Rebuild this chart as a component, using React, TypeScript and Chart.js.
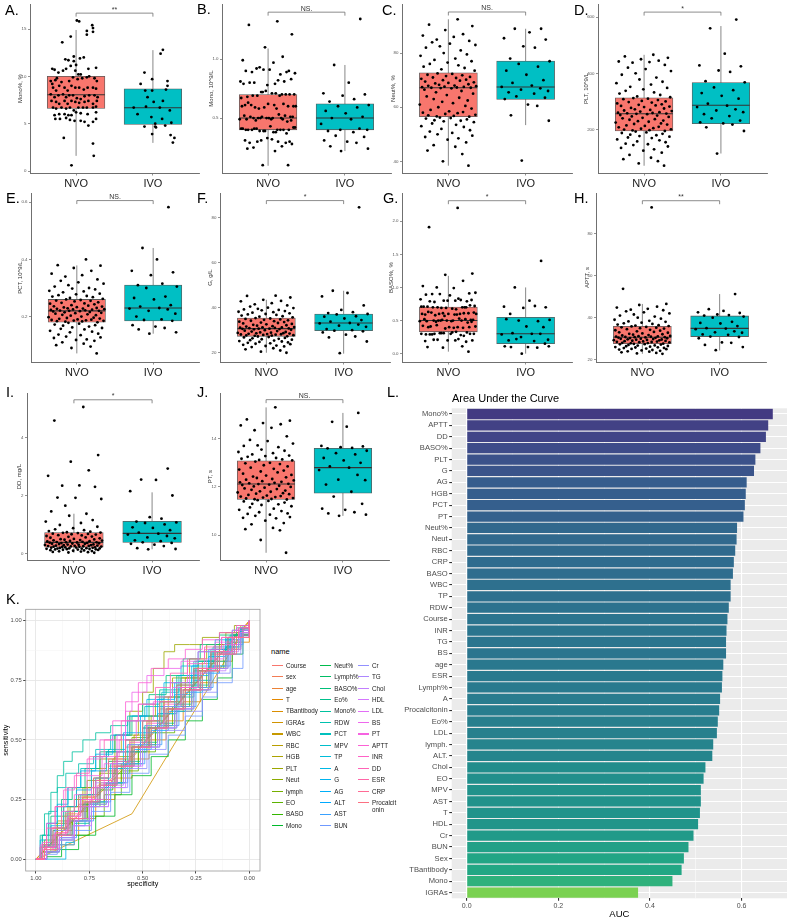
import React, { useEffect, useRef } from 'react';
import { Chart, registerables } from 'chart.js';

Chart.register(...registerables);
const FONT = '"Liberation Sans", Arial, Helvetica, sans-serif';
Chart.defaults.font.family = FONT;

// ================= Box plot panels (A-J) =================
const GROUPS = ['NVO', 'IVO'];
const PANEL_LETTERS = ['A.', 'B.', 'C.', 'D.', 'E.', 'F.', 'G.', 'H.', 'I.', 'J.'];
const Y_TITLES = ['Mono%, %', 'Mono, 10^9/L', 'Neut%, %', 'PLT, 10^9/L', 'PCT, 10^9/L', 'G, g/L', 'BASO%, %', 'APTT, s', 'DD, mg/L', 'PT, s'];
const Y_MIN = [-0.21, 0.034, 35.7, 45.8, 0.041, 15.9, -0.126, 18.9, -0.23, 8.97];
const Y_MAX = [17.63, 1.466, 98.1, 645.9, 0.632, 90.8, 2.424, 99.2, 5.54, 15.89];
const Y_TICKS = [[0, 5, 10, 15], [0.5, 1.0], [40, 60, 80], [200, 400, 600], [0.2, 0.4, 0.6], [20, 40, 60, 80], [0, 0.5, 1, 1.5, 2], [20, 40, 60, 80], [0, 2, 4], [10, 12, 14]];
const Y_TICK_LABELS = [['0', '5', '10', '15'], ['0.5', '1.0'], ['40', '60', '80'], ['200', '400', '600'], ['0.2', '0.4', '0.6'], ['20', '40', '60', '80'], ['0.0', '0.5', '1.0', '1.5', '2.0'], ['20', '40', '60', '80'], ['0', '2', '4'], ['10', '12', '14']];
const SIG_LABELS = ['**', 'NS.', 'NS.', '*', 'NS.', '*', '*', '**', '*', 'NS.'];
const SIG_Y = [16.68, 1.398, 95.2, 617.6, 0.606, 87.5, 2.31, 95.6, 5.31, 15.62];

// box statistics per panel: [NVO, IVO]
const BOX_LOW = [[1.6, 2.97], [0.095, 0.22], [38.4, 53.4], [71.6, 115], [0.071, 0.14], [20, 19.6], [0.03, 0], [22.8, 24.4], [0.02, 0.14], [9.27, 10.8]];
const BOX_Q1 = [[6.6, 4.93], [0.4, 0.4], [56.5, 62.9], [195, 221], [0.18, 0.185], [27.3, 29.8], [0.33, 0.15], [27.6, 31], [0.21, 0.38], [11.48, 11.74]];
const BOX_MED = [[8.05, 6.68], [0.5, 0.5], [67.2, 67.5], [256.5, 286.8], [0.22, 0.23], [30.7, 33.2], [0.5, 0.3], [30.7, 34.9], [0.38, 0.69], [12.12, 12.8]];
const BOX_Q3 = [[10.0, 8.68], [0.7, 0.62], [72.7, 77.1], [312.9, 367], [0.26, 0.31], [35.4, 37.2], [0.705, 0.55], [35.9, 40.8], [0.72, 1.11], [13.08, 13.6]];
const BOX_HIGH = [[14.9, 12.77], [1.09, 0.95], [92.5, 89], [465.8, 568], [0.379, 0.44], [43.5, 47.5], [1.175, 1.0], [46.5, 51.2], [1.37, 2.11], [15.3, 15.07]];

// jitter offsets (category units)
const JIT_NVO_A = [
  0.01, 0.04, 0.21, 0.22, 0.22, 0.14, 0.14, -0.07, -0.18, 0.10,
  -0.03, -0.03, -0.10, -0.14, 0.0, 0.05, -0.07, -0.23, -0.17, -0.01,
  -0.13, 0.06, 0.03, 0.16, 0.26, -0.31, -0.28, -0.31, -0.25, -0.30,
  -0.26, -0.19, -0.09, -0.04, 0.02, 0.08, 0.14, 0.17, 0.24, 0.27,
  -0.33, -0.27, -0.22, -0.15, -0.11, -0.06, -0.01, 0.04, 0.10, 0.15,
  0.22, 0.26, -0.33, -0.28, -0.23, -0.17, -0.13, -0.09, -0.04, 0.01,
  0.06, 0.11, 0.17, 0.24, 0.28, -0.32, -0.26, -0.22, -0.15, -0.11,
  -0.06, -0.01, 0.04, 0.11, 0.16, 0.22, 0.27, -0.30, -0.26, -0.19,
  -0.13, -0.08, -0.03, 0.03, 0.09, 0.14, 0.22, 0.26, -0.28, -0.22,
  -0.15, -0.10, -0.06, 0.0, 0.06, 0.15, 0.26, -0.27, -0.21, -0.13,
  -0.08, -0.02, 0.06, 0.11, 0.16, 0.22, 0.26, -0.16, 0.22, 0.23,
  -0.06];
const JIT_IVO_A = [0.13, 0.10, -0.11, -0.01, 0.19, -0.16, 0.19, -0.10, -0.01, 0.17, -0.07, 0.13, 0.01, -0.09, -0.25, 0.09, 0.22, -0.20, -0.02, 0.12, 0.24, 0.03, -0.11, 0.03, 0.04, 0.16, -0.01, 0.23, 0.28, 0.26];
const JIT_NVO = [
  0.12, -0.25, 0.31, -0.04, 0.19, -0.33, 0.07, -0.15, 0.27, -0.21,
  0.02, 0.35, -0.11, -0.29, 0.16, -0.06, 0.24, -0.36, 0.09, -0.18,
  0.3, -0.01, -0.24, 0.13, -0.32, 0.21, -0.09, 0.34, -0.14, 0.05,
  -0.27, 0.18, -0.03, 0.28, -0.2, 0.1, -0.35, 0.23, -0.07, 0.15,
  -0.3, 0.33, 0.0, -0.17, 0.26, -0.12, 0.08, -0.26, 0.36, -0.05,
  0.2, -0.34, 0.11, -0.22, 0.29, -0.1, 0.04, -0.31, 0.17, -0.16,
  0.32, -0.02, -0.28, 0.14, -0.19, 0.25, -0.08, 0.06, -0.37, 0.22,
  -0.13, 0.3, -0.23, 0.01, 0.19, -0.33, 0.12, -0.04, 0.35, -0.26,
  0.07, -0.15, 0.27, -0.11, 0.03, -0.29, 0.24, -0.18, 0.16, -0.06,
  0.33, -0.21, 0.1, -0.35, 0.2, -0.09, 0.28, -0.24, 0.05, -0.14,
  0.31, -0.3, 0.13, -0.01, 0.23, -0.19, 0.09, -0.27, 0.18, -0.07,
  0.26];
const JIT_IVO = [0.2, -0.14, 0.05, -0.28, 0.26, -0.03, 0.12, -0.2, 0.31, -0.09, 0.16, -0.25, 0.01, 0.23, -0.17, 0.08, -0.31, 0.19, -0.06, 0.29, -0.22, 0.11, -0.12, 0.25, -0.27, 0.03, 0.15, -0.19, 0.3, -0.05];

// point values
const NVO_A = [15.9, 15.8, 15.4, 15.1, 14.7, 14.8, 14.4, 14.2, 13.6, 12.0, 12.1, 11.6, 11.7, 11.8, 11.2, 11.9, 11.1, 10.4, 10.6, 10.6, 10.8, 10.2, 10.2, 10.8, 10.9, 10.8, 10.7, 9.2, 9.8, 8.8, 8.5, 9.4, 9.5, 9.9, 9.7, 9.8, 9.9, 10.0, 9.8, 9.5, 9.5, 9.6, 9.0, 8.8, 8.5, 9.0, 8.8, 8.8, 8.6, 8.8, 8.8, 8.7, 8.1, 7.8, 8.0, 8.1, 7.8, 8.0, 8.0, 7.7, 7.6, 7.9, 8.0, 8.0, 7.8, 7.4, 7.3, 7.1, 7.4, 7.1, 7.4, 7.3, 7.2, 7.3, 7.4, 7.1, 7.4, 6.7, 6.6, 6.7, 6.6, 6.7, 6.4, 6.7, 6.7, 6.7, 6.7, 6.8, 5.9, 6.0, 6.0, 5.9, 5.9, 6.2, 6.1, 6.0, 6.2, 5.5, 5.5, 5.6, 5.4, 5.3, 5.3, 5.2, 4.8, 5.2, 5.5, 3.5, 2.9, 1.6, 0.6];
const IVO_A = [12.8, 12.4, 10.4, 9.7, 9.5, 9.2, 9.0, 8.5, 8.5, 8.6, 7.8, 7.4, 7.3, 6.8, 6.7, 6.7, 6.4, 6.0, 5.7, 5.5, 5.1, 5.0, 4.7, 4.7, 4.6, 4.8, 3.9, 3.8, 3.5, 3.0];
const NVO_B = [1.32, 1.29, 1.21, 1.1, 1.02, 0.99, 0.97, 0.92, 0.9, 0.89, 0.91, 0.88, 0.93, 0.9, 0.87, 0.91, 0.89, 0.81, 0.79, 0.8, 0.83, 0.78, 0.8, 0.82, 0.79, 0.81, 0.72, 0.7, 0.69, 0.71, 0.68, 0.7, 0.73, 0.7, 0.69, 0.71, 0.67, 0.7, 0.72, 0.69, 0.61, 0.6, 0.62, 0.59, 0.6, 0.58, 0.61, 0.63, 0.6, 0.59, 0.62, 0.6, 0.58, 0.61, 0.51, 0.5, 0.49, 0.52, 0.5, 0.48, 0.51, 0.5, 0.49, 0.53, 0.5, 0.47, 0.51, 0.5, 0.49, 0.52, 0.5, 0.48, 0.51, 0.5, 0.49, 0.41, 0.4, 0.39, 0.42, 0.4, 0.38, 0.41, 0.4, 0.39, 0.43, 0.4, 0.37, 0.41, 0.4, 0.39, 0.42, 0.4, 0.38, 0.41, 0.4, 0.31, 0.3, 0.29, 0.32, 0.3, 0.28, 0.31, 0.3, 0.33, 0.29, 0.25, 0.22, 0.24, 0.26, 0.1, 0.1];
const IVO_B = [1.34, 0.95, 0.8, 0.71, 0.7, 0.69, 0.66, 0.64, 0.61, 0.6, 0.59, 0.56, 0.54, 0.51, 0.5, 0.49, 0.45, 0.41, 0.4, 0.4, 0.39, 0.38, 0.35, 0.34, 0.31, 0.3, 0.29, 0.26, 0.24, 0.22];
const NVO_C = [92.5, 90.5, 90, 88.5, 87, 86.5, 86, 85, 84.5, 84, 83.5, 83, 82.5, 82, 81, 80, 79.5, 79, 78, 77.5, 77, 76.5, 76, 75.5, 75, 74.5, 74, 73.5, 72.5, 72.3, 72, 71.8, 71.5, 71.2, 71, 70.8, 70.5, 70.2, 70, 69.8, 69.5, 69.2, 69, 68.8, 68.5, 68.3, 68, 67.9, 67.8, 67.6, 67.5, 67.4, 67.3, 67.2, 67.2, 67.1, 67, 66.5, 66, 65.5, 65, 64.5, 64, 63.5, 63, 62.5, 62, 61.5, 61, 60.5, 60, 59.5, 59, 58.5, 58.2, 58, 57.8, 57.5, 57.2, 57, 56.8, 56.6, 56.5, 56.2, 56, 55.8, 55.5, 55.2, 55, 54.8, 54.5, 54, 53.5, 53, 52.7, 52, 51.5, 51, 50.5, 50, 49.5, 49, 48.5, 48, 47, 46, 45.4, 44, 42.7, 40, 38.4];
const IVO_C = [89, 89, 87.7, 85.5, 85, 82.5, 82, 78, 77, 76, 75, 73.5, 72, 70, 69, 68, 67.5, 67, 66.5, 66, 65.5, 65, 64, 63.5, 63, 61, 60.5, 57, 55, 40.3];
const NVO_D = [466, 460, 455, 450, 445, 442, 440, 438, 430, 420, 415, 408, 400, 395, 385, 378, 370, 365, 360, 352, 348, 343, 338, 332, 328, 323, 318, 315, 312, 310, 308, 305, 302, 300, 298, 296, 293, 290, 288, 286, 284, 282, 280, 277, 275, 272, 270, 268, 266, 264, 262, 260, 259, 258, 257, 256, 255, 252, 250, 247, 245, 242, 240, 237, 235, 232, 230, 228, 225, 222, 220, 218, 215, 213, 210, 208, 205, 203, 201, 200, 198, 197, 195, 193, 190, 188, 185, 182, 180, 177, 175, 172, 170, 165, 162, 158, 155, 150, 148, 145, 140, 135, 130, 125, 118, 110, 100, 95, 88, 80, 72];
const IVO_D = [591, 560, 470, 428, 425, 410, 405, 372, 368, 350, 340, 330, 320, 310, 292, 285, 280, 272, 268, 262, 255, 248, 240, 232, 226, 222, 218, 208, 195, 115];
const NVO_E = [0.40, 0.38, 0.378, 0.37, 0.36, 0.35, 0.345, 0.34, 0.33, 0.325, 0.32, 0.315, 0.31, 0.305, 0.30, 0.298, 0.295, 0.29, 0.288, 0.285, 0.28, 0.278, 0.275, 0.272, 0.27, 0.268, 0.265, 0.262, 0.26, 0.258, 0.256, 0.255, 0.253, 0.25, 0.248, 0.246, 0.245, 0.243, 0.24, 0.238, 0.236, 0.235, 0.233, 0.232, 0.23, 0.229, 0.228, 0.227, 0.226, 0.225, 0.224, 0.223, 0.222, 0.221, 0.22, 0.22, 0.219, 0.218, 0.216, 0.215, 0.213, 0.212, 0.21, 0.208, 0.206, 0.205, 0.203, 0.2, 0.198, 0.196, 0.195, 0.193, 0.192, 0.19, 0.189, 0.188, 0.187, 0.186, 0.185, 0.184, 0.183, 0.182, 0.18, 0.178, 0.175, 0.172, 0.17, 0.168, 0.165, 0.162, 0.16, 0.157, 0.155, 0.15, 0.147, 0.145, 0.14, 0.137, 0.135, 0.13, 0.127, 0.125, 0.12, 0.118, 0.115, 0.11, 0.105, 0.1, 0.095, 0.09, 0.071];
const IVO_E = [0.583, 0.44, 0.40, 0.36, 0.355, 0.345, 0.315, 0.31, 0.305, 0.30, 0.27, 0.265, 0.26, 0.24, 0.235, 0.23, 0.228, 0.225, 0.22, 0.21, 0.2, 0.19, 0.188, 0.185, 0.17, 0.165, 0.16, 0.155, 0.145, 0.14];
const NVO_F = [45.3, 45.2, 44.5, 43.5, 43, 42.8, 42, 41.5, 41, 40.5, 40, 39.8, 39.5, 39.2, 39, 38.8, 38.5, 38.2, 38, 37.8, 37.5, 37.2, 37, 36.8, 36.5, 36.2, 36, 35.7, 35.4, 35.2, 35, 34.8, 34.6, 34.4, 34.2, 34, 33.8, 33.6, 33.4, 33.2, 33, 32.8, 32.6, 32.4, 32.2, 32, 31.8, 31.6, 31.4, 31.3, 31.2, 31.1, 31, 30.9, 30.8, 30.7, 30.7, 30.6, 30.5, 30.4, 30.2, 30, 29.8, 29.6, 29.4, 29.2, 29, 28.9, 28.8, 28.7, 28.6, 28.5, 28.4, 28.3, 28.2, 28.1, 28, 27.9, 27.8, 27.7, 27.6, 27.5, 27.3, 27.2, 27, 26.8, 26.6, 26.4, 26.2, 26, 25.8, 25.6, 25.4, 25.2, 25, 24.8, 24.6, 24.4, 24.2, 24, 23.8, 23.5, 23.2, 23, 22.8, 22.5, 22, 21.5, 21, 20.5, 20];
const IVO_F = [84.5, 47.5, 46.5, 45, 41, 39, 38, 37.6, 37.2, 37, 36.2, 36, 35.2, 34.5, 33.8, 33.2, 33, 32.5, 32, 31.5, 30.5, 30, 29.8, 29.5, 29, 28, 27.2, 26.8, 25, 19.8];
const NVO_G = [2.2, 1.91, 1.21, 1.19, 1.1, 1.02, 0.99, 1.0, 0.91, 0.9, 0.88, 0.92, 0.9, 0.89, 0.81, 0.8, 0.79, 0.82, 0.8, 0.78, 0.81, 0.8, 0.79, 0.83, 0.71, 0.7, 0.69, 0.72, 0.7, 0.68, 0.71, 0.7, 0.69, 0.73, 0.7, 0.67, 0.71, 0.7, 0.61, 0.6, 0.59, 0.62, 0.6, 0.58, 0.61, 0.6, 0.59, 0.63, 0.6, 0.57, 0.61, 0.6, 0.59, 0.62, 0.51, 0.5, 0.49, 0.52, 0.5, 0.48, 0.51, 0.5, 0.49, 0.53, 0.5, 0.47, 0.51, 0.5, 0.49, 0.52, 0.5, 0.48, 0.41, 0.4, 0.39, 0.42, 0.4, 0.38, 0.41, 0.4, 0.39, 0.43, 0.4, 0.31, 0.3, 0.29, 0.32, 0.3, 0.28, 0.31, 0.3, 0.29, 0.33, 0.3, 0.27, 0.31, 0.3, 0.29, 0.32, 0.21, 0.2, 0.19, 0.22, 0.2, 0.18, 0.21, 0.2, 0.1, 0.11, 0.09, 0.03];
const IVO_G = [1.4, 1.0, 0.8, 0.71, 0.7, 0.69, 0.72, 0.6, 0.51, 0.5, 0.49, 0.52, 0.41, 0.4, 0.31, 0.3, 0.29, 0.3, 0.25, 0.21, 0.2, 0.19, 0.22, 0.15, 0.11, 0.1, 0.09, 0.1, 0.11, 0.0];
const NVO_H = [92.4, 53.7, 46.5, 46, 45.2, 44.8, 44.2, 43.8, 43.5, 43, 42.5, 42, 41.5, 41, 40.5, 40, 39.5, 39, 38.5, 38.2, 38, 37.6, 37.3, 37, 36.7, 36.4, 36.2, 36, 35.8, 35.6, 35.4, 35.2, 35, 34.8, 34.5, 34.2, 34, 33.8, 33.5, 33.2, 33, 32.8, 32.5, 32.3, 32.1, 31.9, 31.7, 31.5, 31.3, 31.2, 31.1, 31, 30.9, 30.8, 30.7, 30.7, 30.6, 30.5, 30.4, 30.3, 30.2, 30, 29.9, 29.8, 29.7, 29.6, 29.5, 29.4, 29.3, 29.2, 29, 28.9, 28.8, 28.7, 28.6, 28.5, 28.4, 28.3, 28.2, 28, 27.9, 27.8, 27.6, 27.5, 27.4, 27.3, 27.2, 27, 26.8, 26.7, 26.5, 26.4, 26.2, 26, 25.9, 25.8, 25.6, 25.5, 25.3, 25.1, 25, 24.8, 24.6, 24.4, 24.2, 24, 23.8, 23.5, 23.2, 23, 22.8];
const IVO_H = [51.2, 44, 43.2, 42.5, 42.2, 41.5, 41.2, 41, 40.5, 40, 38, 37.5, 37.2, 36, 35, 34.8, 34.5, 33.5, 33, 32.8, 32, 31.8, 31, 30.8, 30.2, 28.2, 28, 27, 26, 24.5];
const NVO_I = [5.06, 4.59, 3.4, 3.17, 2.87, 2.68, 2.35, 2.34, 2.3, 1.93, 1.92, 1.88, 1.65, 1.45, 1.37, 1.3, 1.15, 1.1, 1.05, 0.98, 0.92, 0.87, 0.83, 0.8, 0.77, 0.75, 0.73, 0.72, 0.71, 0.7, 0.68, 0.67, 0.66, 0.65, 0.63, 0.62, 0.6, 0.58, 0.57, 0.55, 0.54, 0.52, 0.5, 0.49, 0.48, 0.47, 0.46, 0.45, 0.44, 0.43, 0.42, 0.41, 0.4, 0.39, 0.38, 0.38, 0.375, 0.37, 0.36, 0.355, 0.35, 0.34, 0.335, 0.33, 0.32, 0.31, 0.305, 0.3, 0.29, 0.285, 0.28, 0.27, 0.265, 0.26, 0.255, 0.25, 0.245, 0.24, 0.235, 0.23, 0.225, 0.22, 0.21, 0.205, 0.2, 0.195, 0.19, 0.185, 0.18, 0.175, 0.17, 0.165, 0.16, 0.155, 0.15, 0.145, 0.14, 0.135, 0.13, 0.125, 0.12, 0.11, 0.1, 0.09, 0.08, 0.07, 0.06, 0.05, 0.04, 0.03, 0.02];
const IVO_I = [2.93, 2.55, 2.54, 2.15, 2.0, 1.25, 1.2, 1.1, 1.07, 1.05, 1.0, 0.9, 0.88, 0.8, 0.72, 0.68, 0.65, 0.6, 0.55, 0.52, 0.45, 0.42, 0.38, 0.36, 0.33, 0.3, 0.25, 0.18, 0.15, 0.14];
const NVO_J = [15.3, 14.8, 14.75, 14.65, 14.6, 14.55, 14.45, 14.35, 14.1, 13.95, 13.9, 13.8, 13.72, 13.7, 13.65, 13.55, 13.5, 13.45, 13.4, 13.35, 13.3, 13.28, 13.25, 13.2, 13.17, 13.14, 13.12, 13.1, 13.05, 13.0, 12.98, 12.95, 12.9, 12.85, 12.8, 12.75, 12.72, 12.68, 12.64, 12.6, 12.55, 12.5, 12.47, 12.43, 12.4, 12.37, 12.33, 12.3, 12.27, 12.24, 12.21, 12.19, 12.17, 12.15, 12.13, 12.12, 12.1, 12.08, 12.05, 12.02, 12.0, 11.97, 11.94, 11.91, 11.88, 11.85, 11.82, 11.8, 11.77, 11.74, 11.72, 11.7, 11.67, 11.64, 11.62, 11.6, 11.58, 11.56, 11.54, 11.52, 11.5, 11.49, 11.48, 11.45, 11.42, 11.4, 11.35, 11.3, 11.28, 11.25, 11.2, 11.15, 11.1, 11.05, 11.0, 10.95, 10.9, 10.88, 10.85, 10.8, 10.75, 10.72, 10.7, 10.6, 10.5, 10.45, 10.3, 10.25, 10.2, 9.8, 9.27];
const IVO_J = [15.07, 14.7, 14.5, 13.7, 13.68, 13.65, 13.62, 13.6, 13.5, 13.4, 13.35, 13.2, 13.1, 13.0, 12.85, 12.8, 12.7, 12.5, 12.3, 12.28, 12.1, 11.8, 11.6, 11.3, 11.1, 11.05, 10.95, 10.9, 10.85, 10.8];

const NVO_VALUES = [NVO_A, NVO_B, NVO_C, NVO_D, NVO_E, NVO_F, NVO_G, NVO_H, NVO_I, NVO_J];
const IVO_VALUES = [IVO_A, IVO_B, IVO_C, IVO_D, IVO_E, IVO_F, IVO_G, IVO_H, IVO_I, IVO_J];
const NVO_JITTERS = [JIT_NVO_A, JIT_NVO, JIT_NVO, JIT_NVO, JIT_NVO, JIT_NVO, JIT_NVO, JIT_NVO, JIT_NVO, JIT_NVO];
const IVO_JITTERS = [JIT_IVO_A, JIT_IVO, JIT_IVO, JIT_IVO, JIT_IVO, JIT_IVO, JIT_IVO, JIT_IVO, JIT_IVO, JIT_IVO];

// ================= AUC bar chart (L) =================
const AUC_NAMES = ['Mono%', 'APTT', 'DD', 'BASO%', 'PLT', 'G', 'AG', 'HGB', 'PCT', 'PT', 'Neut%', 'Neut', 'RBC', 'CRP', 'BASO', 'WBC', 'TP', 'RDW', 'Course', 'INR', 'TG', 'BS', 'age', 'ESR', 'Lymph%', 'A', 'Procalcitonin', 'Eo%', 'LDL', 'lymph.', 'ALT.', 'Chol', 'EO', 'MPV', 'AST', 'T', 'HDL', 'Cr', 'BUN', 'Sex', 'TBantibody', 'Mono', 'IGRAs'];
const AUC_VALUES = [0.668, 0.658, 0.653, 0.641, 0.630, 0.627, 0.611, 0.609, 0.607, 0.604, 0.590, 0.589, 0.586, 0.583, 0.581, 0.576, 0.576, 0.572, 0.569, 0.567, 0.566, 0.566, 0.560, 0.558, 0.557, 0.553, 0.551, 0.548, 0.546, 0.538, 0.536, 0.521, 0.517, 0.511, 0.511, 0.509, 0.505, 0.495, 0.484, 0.474, 0.469, 0.449, 0.374];
const AUC_TICKS = [0, 0.1, 0.2, 0.3, 0.4, 0.5, 0.6];
const AUC_TICK_LABELS = ['0.0', '', '0.2', '', '0.4', '', '0.6'];

// ================= ROC curves (K) : [specificity, sensitivity, ...] =================
const ROC_NAMES = ['Course', 'sex', 'age', 'T', 'TBantibody', 'IGRAs', 'WBC', 'RBC', 'HGB', 'PLT', 'Neut', 'lymph', 'EO', 'BASO', 'Mono', 'Neut%', 'Lymph%', 'BASO%', 'Eo%', 'Mono%', 'RDW', 'PCT', 'MPV', 'TP', 'A', 'G', 'AG', 'ALT', 'AST', 'BUN', 'Cr', 'TG', 'Chol', 'HDL', 'LDL', 'BS', 'PT', 'APTT', 'INR', 'DD', 'ESR', 'CRP', 'Procalcitonin'];
const R_Course = [1, 0, .96, .03, .92, .1, .86, .16, .8, .23, .74, .3, .66, .39, .58, .47, .5, .55, .42, .63, .34, .71, .26, .79, .18, .86, .1, .93, .04, .97, 0, 1];
const R_sex = [1, 0, .58, .4, 0, 1];
const R_age = [1, 0, .97, .05, .9, .12, .83, .2, .76, .27, .7, .32, .62, .4, .55, .47, .47, .55, .38, .63, .3, .72, .22, .8, .14, .88, .07, .94, 0, 1];
const R_T = [1, 0, .95, .04, .88, .1, .8, .17, .72, .25, .63, .34, .55, .42, .47, .5, .39, .58, .31, .66, .23, .74, .15, .83, .08, .91, 0, 1];
const R_TBantibody = [1, 0, .62, .35, 0, 1];
const R_IGRAs = [1, 0, .97, .01, .55, .19, 0, 1];
const R_WBC = [1, 0, .96, .06, .9, .13, .84, .2, .78, .26, .72, .33, .64, .42, .56, .5, .48, .58, .4, .66, .32, .74, .24, .82, .16, .88, .08, .94, 0, 1];
const R_RBC = [1, 0, .95, .07, .9, .16, .85, .22, .78, .3, .7, .37, .62, .45, .54, .52, .46, .6, .38, .68, .3, .76, .22, .83, .14, .9, .06, .96, 0, 1];
const R_HGB = [1, 0, .97, .06, .93, .13, .87, .22, .81, .3, .74, .38, .67, .45, .6, .52, .52, .6, .44, .68, .36, .76, .28, .84, .2, .9, .11, .95, .04, .98, 0, 1];
const R_PLT = [1, 0, .97, .03, .93, .1, .88, .18, .82, .25, .76, .33, .7, .42, .63, .52, .56, .62, .5, .7, .45, .8, .4, .87, .35, .9, .28, .9, .22, .93, .14, .95, .07, .98, 0, 1];
const R_Neut = [1, 0, .96, .08, .9, .15, .84, .22, .77, .3, .7, .36, .63, .43, .55, .51, .47, .6, .4, .68, .32, .76, .24, .83, .16, .9, .08, .95, 0, 1];
const R_lymph = [1, 0, .96, .04, .9, .1, .83, .17, .76, .24, .68, .32, .6, .4, .52, .48, .44, .56, .36, .64, .28, .72, .2, .8, .12, .88, .05, .95, 0, 1];
const R_EO = [1, 0, .97, .03, .9, .06, .82, .1, .75, .18, .68, .27, .6, .37, .52, .45, .44, .53, .35, .62, .27, .71, .19, .8, .11, .88, .04, .96, 0, 1];
const R_BASO = [1, 0, .96, .05, .9, .1, .83, .16, .76, .22, .7, .29, .64, .36, .56, .45, .48, .55, .4, .64, .32, .72, .24, .79, .16, .87, .08, .94, 0, 1];
const R_Mono = [1, 0, .95, .01, .88, .04, .8, .1, .72, .18, .63, .27, .55, .35, .46, .43, .38, .5, .3, .58, .22, .67, .15, .76, .08, .86, .03, .94, 0, 1];
const R_Neutp = [1, 0, .97, .05, .92, .12, .86, .2, .8, .27, .73, .34, .66, .41, .58, .5, .5, .58, .42, .66, .34, .73, .26, .8, .18, .87, .1, .93, .04, .97, 0, 1];
const R_Lymphp = [1, 0, .96, .04, .91, .1, .85, .16, .78, .23, .71, .3, .63, .38, .55, .47, .47, .55, .39, .63, .31, .71, .23, .79, .15, .87, .07, .94, 0, 1];
const R_BASOp = [1, 0, .97, .1, .93, .18, .88, .25, .83, .3, .77, .38, .7, .45, .63, .52, .55, .6, .47, .69, .39, .77, .31, .84, .23, .9, .14, .94, .06, .97, 0, 1];
const R_Eop = [1, 0, .95, .03, .89, .08, .82, .15, .75, .23, .67, .32, .59, .41, .51, .49, .43, .57, .35, .65, .27, .73, .19, .81, .11, .89, .05, .95, 0, 1];
const R_Monop = [1, 0, .98, .1, .96, .19, .93, .28, .9, .35, .87, .41, .83, .45, .78, .5, .72, .53, .65, .56, .57, .6, .5, .65, .42, .71, .34, .77, .26, .83, .18, .88, .1, .93, .04, .97, 0, 1];
const R_RDW = [1, 0, .97, .1, .94, .2, .9, .3, .86, .36, .8, .4, .73, .43, .66, .46, .58, .5, .5, .55, .42, .61, .34, .68, .26, .75, .18, .83, .1, .91, .04, .96, 0, 1];
const R_PCT = [1, 0, .98, .05, .94, .15, .9, .22, .85, .3, .79, .38, .72, .46, .65, .52, .57, .58, .49, .64, .41, .7, .33, .77, .25, .83, .17, .89, .09, .94, .03, .98, 0, 1];
const R_MPV = [1, 0, .95, .03, .89, .09, .82, .16, .74, .24, .66, .32, .58, .4, .5, .47, .42, .55, .34, .63, .26, .71, .18, .8, .1, .89, .04, .95, 0, 1];
const R_TP = [1, 0, .97, .06, .91, .13, .85, .2, .79, .27, .72, .34, .65, .4, .57, .48, .49, .56, .41, .64, .33, .72, .25, .8, .17, .87, .09, .93, .03, .97, 0, 1];
const R_A = [1, 0, .88, 0, .86, .07, .82, .14, .77, .22, .72, .3, .66, .38, .59, .45, .51, .53, .43, .61, .35, .69, .27, .77, .19, .85, .11, .92, .04, .97, 0, 1];
const R_G = [1, 0, .98, .08, .95, .15, .9, .23, .85, .3, .79, .37, .72, .44, .64, .52, .56, .6, .48, .67, .4, .74, .32, .81, .24, .87, .16, .92, .08, .96, 0, 1];
const R_AG = [1, 0, .97, .06, .93, .14, .87, .22, .81, .29, .74, .37, .67, .45, .59, .53, .51, .6, .43, .67, .35, .74, .27, .81, .19, .88, .11, .93, .04, .97, 0, 1];
const R_ALT = [1, 0, .96, .05, .9, .1, .84, .17, .77, .24, .7, .31, .62, .39, .54, .46, .46, .54, .38, .62, .3, .7, .22, .78, .14, .86, .07, .93, 0, 1];
const R_AST = [1, 0, .95, .04, .88, .09, .81, .16, .73, .24, .65, .32, .57, .4, .49, .48, .41, .56, .33, .64, .25, .72, .17, .81, .09, .9, .03, .96, 0, 1];
const R_BUN = [1, 0, .96, .02, .9, .06, .82, .12, .74, .2, .65, .28, .56, .36, .47, .44, .38, .52, .3, .6, .22, .68, .15, .74, .08, .8, .04, .8, .03, .93, 0, 1];
const R_Cr = [1, 0, .96, .03, .9, .08, .83, .14, .75, .22, .66, .3, .57, .38, .48, .46, .39, .54, .3, .62, .22, .7, .15, .78, .09, .86, .04, .93, 0, 1];
const R_TG = [1, 0, .96, .05, .91, .12, .85, .18, .79, .25, .72, .32, .64, .4, .56, .48, .48, .56, .4, .64, .32, .72, .24, .8, .16, .87, .08, .93, 0, 1];
const R_Chol = [1, 0, .95, .04, .89, .09, .82, .16, .75, .23, .67, .31, .59, .39, .51, .47, .43, .55, .35, .63, .27, .71, .19, .79, .11, .87, .05, .94, 0, 1];
const R_HDL = [1, 0, .96, .03, .89, .08, .82, .14, .74, .22, .66, .3, .58, .39, .5, .47, .42, .55, .34, .63, .26, .71, .18, .8, .1, .88, .04, .95, 0, 1];
const R_LDL = [1, 0, .95, .05, .89, .1, .82, .17, .75, .25, .68, .32, .62, .45, .58, .58, .52, .65, .44, .68, .36, .72, .28, .78, .2, .84, .12, .9, .05, .95, 0, 1];
const R_BS = [1, 0, .97, .04, .92, .1, .86, .16, .8, .22, .74, .3, .68, .4, .62, .52, .58, .62, .55, .7, .48, .77, .4, .8, .32, .83, .24, .87, .16, .91, .08, .96, 0, 1];
const R_PT = [1, 0, .97, .07, .93, .13, .88, .2, .82, .27, .76, .35, .69, .43, .61, .5, .53, .58, .45, .66, .37, .74, .29, .82, .21, .88, .13, .93, .05, .97, 0, 1];
const R_APTT = [1, 0, .98, .06, .95, .15, .91, .22, .87, .29, .82, .35, .76, .42, .7, .5, .64, .58, .58, .66, .52, .74, .46, .8, .38, .84, .3, .88, .22, .92, .14, .95, .06, .98, 0, 1];
const R_INR = [1, 0, .96, .05, .91, .11, .85, .18, .79, .25, .72, .33, .64, .41, .56, .49, .48, .57, .4, .65, .32, .72, .24, .8, .16, .87, .08, .93, 0, 1];
const R_DD = [1, 0, .98, .05, .95, .13, .91, .22, .86, .3, .81, .36, .75, .43, .68, .5, .6, .58, .52, .65, .44, .72, .37, .78, .29, .84, .21, .89, .13, .93, .05, .97, 0, 1];
const R_ESR = [1, 0, .96, .05, .91, .11, .85, .17, .78, .24, .71, .31, .63, .39, .55, .47, .47, .55, .39, .63, .31, .71, .23, .79, .15, .86, .07, .93, 0, 1];
const R_CRP = [1, 0, .97, .06, .92, .13, .86, .19, .8, .26, .73, .34, .66, .42, .58, .5, .5, .58, .42, .66, .34, .73, .26, .8, .18, .87, .1, .93, .03, .97, 0, 1];
const R_Procalcitonin = [1, 0, .96, .04, .9, .1, .84, .17, .77, .24, .7, .31, .62, .39, .54, .47, .46, .55, .38, .63, .3, .71, .22, .79, .14, .86, .06, .93, 0, 1];
const ROC_CURVES = [R_Course, R_sex, R_age, R_T, R_TBantibody, R_IGRAs, R_WBC, R_RBC, R_HGB, R_PLT, R_Neut, R_lymph, R_EO, R_BASO, R_Mono, R_Neutp, R_Lymphp, R_BASOp, R_Eop, R_Monop, R_RDW, R_PCT, R_MPV, R_TP, R_A, R_G, R_AG, R_ALT, R_AST, R_BUN, R_Cr, R_TG, R_Chol, R_HDL, R_LDL, R_BS, R_PT, R_APTT, R_INR, R_DD, R_ESR, R_CRP, R_Procalcitonin];
const ROC_TICKS = [0, 0.125, 0.25, 0.375, 0.5, 0.625, 0.75, 0.875, 1];
const ROC_TICK_LABELS = ['0.00', '', '0.25', '', '0.50', '', '0.75', '', '1.00'];

// ================= styles / layout =================
const BOX_FILLS = ['#F8766D', '#00BFC4'];
const BOX_WIDTH = 0.75;
const X_RANGE = [0.4, 2.6];
// plot areas [left, top, right, bottom]
const PLOT_RECTS = [[30, 3, 199, 173], [222, 3, 391, 173], [402, 3, 572, 173], [598, 3, 767, 173], [31, 192, 199, 362], [220, 192, 390, 362], [402, 192, 572, 362], [596, 192, 766, 362], [27, 392, 199, 560], [220, 392, 389, 560]];
const Y_TITLE_OFF = [-9.5, -10.7, -8.4, -11.6, -10.7, -10, -10.6, -8.3, -8, -10];
const LETTERS = ['A.', 'B.', 'C.', 'D.', 'E.', 'F.', 'G.', 'H.', 'I.', 'J.', 'K.', 'L.'];
const LETTER_POS = [[5, 10], [197, 9], [382, 10], [574, 10], [6, 198], [197, 198], [383, 198], [574, 198], [6, 392], [197, 392], [6, 599], [387, 392]];
const VIRIDIS = ['#440154', '#482475', '#414487', '#355F8D', '#2A788E', '#21918C', '#22A884', '#44BF70', '#7AD151', '#BDDF26', '#FDE725'];
const VIRIDIS_RANGE = [0.17, 0.8];

function hexToRgb(h: string) {
  return [parseInt(h.slice(1, 3), 16), parseInt(h.slice(3, 5), 16), parseInt(h.slice(5, 7), 16)];
}
function viridis(t: number) {
  const p = Math.max(0, Math.min(1, t)) * 10;
  const i = Math.min(9, Math.floor(p));
  const f = p - i;
  const a = hexToRgb(VIRIDIS[i]), b = hexToRgb(VIRIDIS[i + 1]);
  const c = a.map((v, k) => Math.round(v + (b[k] - v) * f));
  return `rgb(${c[0]},${c[1]},${c[2]})`;
}
const AUC_MAX = Math.max(...AUC_VALUES), AUC_MIN = Math.min(...AUC_VALUES);
function aucColor(v: number) {
  return viridis(VIRIDIS_RANGE[0] + (VIRIDIS_RANGE[1] - VIRIDIS_RANGE[0]) * (AUC_MAX - v) / (AUC_MAX - AUC_MIN));
}
function hcl(h: number, c: number, l: number) {
  const hr = (h * Math.PI) / 180;
  const U = c * Math.cos(hr), V = c * Math.sin(hr);
  const Xn = 95.047, Yn = 100, Zn = 108.883;
  const den = Xn + 15 * Yn + 3 * Zn;
  const un = (4 * Xn) / den, vn = (9 * Yn) / den;
  const Y = l > 8 ? Yn * Math.pow((l + 16) / 116, 3) : (Yn * l) / 903.3;
  const u = U / (13 * l) + un, v = V / (13 * l) + vn;
  const X = (Y * 9 * u) / (4 * v), Z = (Y * (12 - 3 * u - 20 * v)) / (4 * v);
  const x = X / 100, y = Y / 100, z = Z / 100;
  const lin = [3.2404542 * x - 1.5371385 * y - 0.4985314 * z, -0.969266 * x + 1.8760108 * y + 0.041556 * z, 0.0556434 * x - 0.2040259 * y + 1.0572252 * z];
  return lin.map((q) => {
    const g = q <= 0.0031308 ? 12.92 * q : 1.055 * Math.pow(q, 1 / 2.4) - 0.055;
    return Math.round(Math.max(0, Math.min(1, g)) * 255);
  });
}
function hueColor(k: number, n: number, a: number) {
  const c = hcl(15 + (360 * k) / n, 100, 65);
  return `rgba(${c[0]},${c[1]},${c[2]},${a})`;
}

const sigPlugin = {
  id: 'sig',
  afterDatasetsDraw(chart: any, _args: any, opts: any) {
    const { ctx } = chart;
    const xs = chart.scales.x, ys = chart.scales.y;
    const x1 = xs.getPixelForValue(1), x2 = xs.getPixelForValue(2), yb = ys.getPixelForValue(opts.value);
    ctx.save();
    ctx.strokeStyle = '#707070';
    ctx.lineWidth = 0.8;
    ctx.beginPath();
    ctx.moveTo(x1, yb + 3.5);
    ctx.lineTo(x1, yb);
    ctx.lineTo(x2, yb);
    ctx.lineTo(x2, yb + 3.5);
    ctx.stroke();
    ctx.fillStyle = '#333';
    ctx.font = `7px ${FONT}`;
    ctx.textAlign = 'center';
    ctx.textBaseline = 'alphabetic';
    ctx.fillText(opts.label, (x1 + x2) / 2, yb - 1.5);
    ctx.restore();
  },
};

const bgPlugin = {
  id: 'panelBg',
  beforeDraw(chart: any, _a: any, opts: any) {
    if (!opts.color) return;
    const { ctx, chartArea: a } = chart;
    ctx.save();
    ctx.fillStyle = opts.color;
    ctx.fillRect(a.left, a.top, a.right - a.left, a.bottom - a.top);
    ctx.restore();
  },
};
const borderPlugin = {
  id: 'panelBorder',
  afterDraw(chart: any, _a: any, opts: any) {
    if (!opts.color) return;
    const { ctx, chartArea: a } = chart;
    ctx.save();
    ctx.strokeStyle = opts.color;
    ctx.lineWidth = 0.8;
    ctx.strokeRect(a.left, a.top, a.right - a.left, a.bottom - a.top);
    ctx.restore();
  },
};

const YW = 30, XH = 20, PADT = 3, PADR = 4;

function BoxPanel({ i }: { i: number }) {
  const ref = useRef<HTMLCanvasElement>(null);
  const [l, t, r, b] = PLOT_RECTS[i];
  const cl = l - YW, ct = t - PADT, cw = r - l + YW + PADR, ch = b - t + PADT + XH;
  useEffect(() => {
    const pos = GROUPS.map((_, k) => k + 1);
    const nv = NVO_VALUES[i], iv = IVO_VALUES[i];
    const jn = NVO_JITTERS[i], ji = IVO_JITTERS[i];
    const pts = [
      ...nv.map((y, k) => ({ x: pos[0] + jn[k], y })),
      ...iv.map((y, k) => ({ x: pos[1] + ji[k], y })),
    ];
    const hw = BOX_WIDTH / 2;
    const med: any[] = [];
    const whisk: any[] = [];
    const box: any[] = [];
    pos.forEach((p, g) => {
      if (g > 0) {
        med.push({ x: p - 0.5, y: null });
        whisk.push({ x: p - 0.5, y: null });
      }
      med.push({ x: p - hw, y: BOX_MED[i][g] }, { x: p + hw, y: BOX_MED[i][g] });
      whisk.push({ x: p, y: BOX_LOW[i][g] }, { x: p, y: BOX_HIGH[i][g] });
      box.push({ x: p, y: [BOX_Q1[i][g], BOX_Q3[i][g]] });
    });
    const boxPx = ((r - l) / (X_RANGE[1] - X_RANGE[0])) * BOX_WIDTH;
    const chart = new Chart(ref.current as HTMLCanvasElement, {
      type: 'bar',
      data: {
        datasets: [
          { type: 'scatter', order: 0, data: pts, pointRadius: 1.4, pointBackgroundColor: '#000', pointBorderColor: '#000', pointBorderWidth: 0 },
          { type: 'line', order: 1, data: med, borderColor: '#333', borderWidth: 1.1, pointRadius: 0, spanGaps: false, fill: false },
          { type: 'bar', order: 2, data: box, backgroundColor: BOX_FILLS, borderColor: '#5a5a5a', borderWidth: 0.8, borderSkipped: false, grouped: false, barThickness: boxPx },
          { type: 'line', order: 3, data: whisk, borderColor: '#6a6a6a', borderWidth: 0.8, pointRadius: 0, spanGaps: false, fill: false },
        ] as any,
      },
      options: {
        animation: false,
        responsive: false,
        devicePixelRatio: 1,
        events: [],
        layout: { padding: { top: PADT, right: PADR, left: 0, bottom: 0 } },
        plugins: { legend: { display: false }, tooltip: { enabled: false }, sig: { value: SIG_Y[i], label: SIG_LABELS[i] } } as any,
        scales: {
          x: {
            type: 'linear', min: X_RANGE[0], max: X_RANGE[1], offset: false,
            afterBuildTicks: (s: any) => { s.ticks = pos.map((v) => ({ value: v })); },
            afterFit: (s: any) => { s.height = XH; },
            ticks: { callback: (_v: any, k: number) => GROUPS[k], font: { size: 11 }, color: '#1a1a1a', padding: 1.5, autoSkip: false, maxRotation: 0 },
            grid: { display: true, offset: false, drawOnChartArea: false, drawTicks: true, tickLength: 2.5, color: '#777', lineWidth: 0.8 },
            border: { display: true, color: '#707070', width: 1 },
          },
          y: {
            type: 'linear', min: Y_MIN[i], max: Y_MAX[i],
            afterBuildTicks: (s: any) => { s.ticks = Y_TICKS[i].map((v) => ({ value: v })); },
            afterFit: (s: any) => { s.width = YW; },
            ticks: { callback: (_v: any, k: number) => Y_TICK_LABELS[i][k], font: { size: 4.4 }, color: '#555', padding: 1.5, autoSkip: false },
            grid: { display: true, drawOnChartArea: false, drawTicks: true, tickLength: 2, color: '#777', lineWidth: 0.8 },
            border: { display: true, color: '#707070', width: 1 },
            title: { display: true, text: Y_TITLES[i], font: { size: 6 }, color: '#333', padding: { top: YW + Y_TITLE_OFF[i] - 3.6, bottom: 0 } },
          },
        } as any,
      },
      plugins: [sigPlugin],
    } as any);
    return () => chart.destroy();
  }, [i]);
  return <canvas ref={ref} width={cw} height={ch} style={{ position: 'absolute', left: cl, top: ct, width: cw, height: ch }} />;
}

function AucPanel() {
  const ref = useRef<HTMLCanvasElement>(null);
  useEffect(() => {
    const major = (v: number) => Math.abs(v * 5 - Math.round(v * 5)) < 1e-6;
    const chart = new Chart(ref.current as HTMLCanvasElement, {
      type: 'bar',
      data: {
        labels: AUC_NAMES,
        datasets: [{ data: AUC_VALUES, backgroundColor: AUC_VALUES.map(aucColor), borderWidth: 0, barPercentage: 0.9, categoryPercentage: 1 }],
      },
      options: {
        indexAxis: 'y',
        animation: false,
        responsive: false,
        devicePixelRatio: 1,
        events: [],
        layout: { padding: { top: 28.3, right: 3, left: 0, bottom: 0 } },
        plugins: { legend: { display: false }, tooltip: { enabled: false }, panelBg: { color: '#EBEBEB' } } as any,
        scales: {
          x: {
            type: 'linear', min: -0.0327, max: 0.699, offset: false,
            afterBuildTicks: (s: any) => { s.ticks = AUC_TICKS.map((v) => ({ value: v })); },
            afterFit: (s: any) => { s.height = 21.7; },
            ticks: { callback: (_v: any, k: number) => AUC_TICK_LABELS[k], font: { size: 7 }, color: '#4D4D4D', padding: 1.5, autoSkip: false, maxRotation: 0 },
            grid: {
              color: '#FFFFFF',
              lineWidth: (c: any) => (c.tick && major(c.tick.value) ? 1.1 : 0.5),
              tickColor: (c: any) => (c.tick && major(c.tick.value) ? '#333' : 'rgba(0,0,0,0)'),
              tickLength: 2.5, drawTicks: true,
            },
            border: { display: false },
            title: { display: true, text: 'AUC', font: { size: 9.5 }, color: '#000', padding: { top: 0, bottom: 0 } },
          },
          y: {
            type: 'category',
            afterFit: (s: any) => { s.width = 61.7; },
            ticks: { font: { size: 7.6 }, color: '#4D4D4D', padding: 1.5, autoSkip: false },
            grid: { offset: false, color: '#FFFFFF', lineWidth: 1.1, tickColor: '#333', tickLength: 2.5, drawTicks: true },
            border: { display: false },
          },
        } as any,
      },
      plugins: [bgPlugin],
    } as any);
    return () => chart.destroy();
  }, []);
  return <canvas ref={ref} width={400} height={540} style={{ position: 'absolute', left: 390, top: 380, width: 400, height: 540 }} />;
}

function RocPanel() {
  const ref = useRef<HTMLCanvasElement>(null);
  useEffect(() => {
    const major = (v: number) => Math.abs(v * 4 - Math.round(v * 4)) < 1e-6;
    const n = ROC_CURVES.length;
    const datasets = ROC_CURVES.map((c, k) => {
      const data: any[] = [];
      for (let j = 0; j < c.length; j += 2) data.push({ x: c[j], y: c[j + 1] });
      return {
        type: 'line', data, order: -k, borderColor: hueColor(k, n, 0.9), borderWidth: 0.9,
        pointRadius: 0, fill: false, stepped: c.length > 8 ? 'before' : false,
      };
    });
    const gridOpts = {
      color: (c: any) => (c.tick && major(c.tick.value) ? '#E6E6E6' : '#F3F3F3'),
      lineWidth: (c: any) => (c.tick && major(c.tick.value) ? 0.9 : 0.5),
      tickColor: (c: any) => (c.tick && major(c.tick.value) ? '#333' : 'rgba(0,0,0,0)'),
      tickLength: 2.5, drawTicks: true,
    };
    const chart = new Chart(ref.current as HTMLCanvasElement, {
      type: 'line',
      data: { datasets: datasets as any },
      options: {
        animation: false,
        responsive: false,
        devicePixelRatio: 1,
        events: [],
        layout: { padding: { top: 9.3, right: 5, left: 0, bottom: 0 } },
        plugins: { legend: { display: false }, tooltip: { enabled: false }, panelBorder: { color: '#9A9A9A' } } as any,
        scales: {
          x: {
            type: 'linear', reverse: true, min: -0.05, max: 1.048, offset: false,
            afterBuildTicks: (s: any) => { s.ticks = ROC_TICKS.map((v) => ({ value: v })); },
            afterFit: (s: any) => { s.height = 21; },
            ticks: { callback: (_v: any, k: number) => ROC_TICK_LABELS[k], font: { size: 5.8 }, color: '#4D4D4D', padding: 1, autoSkip: false, maxRotation: 0 },
            grid: gridOpts,
            border: { display: false },
            title: { display: true, text: 'specificity', font: { size: 7.2 }, color: '#000', padding: { top: 0, bottom: 3.4 } },
          },
          y: {
            type: 'linear', min: -0.05, max: 1.048, offset: false,
            afterBuildTicks: (s: any) => { s.ticks = ROC_TICKS.map((v) => ({ value: v })); },
            afterFit: (s: any) => { s.width = 25.7; },
            ticks: { callback: (_v: any, k: number) => ROC_TICK_LABELS[k], font: { size: 5.8 }, color: '#4D4D4D', padding: 1.5, autoSkip: false },
            grid: gridOpts,
            border: { display: false },
            title: { display: true, text: 'sensitivity', font: { size: 7.2 }, color: '#000', padding: { top: 1.4, bottom: 0 } },
          },
        } as any,
      },
      plugins: [borderPlugin],
    } as any);
    return () => chart.destroy();
  }, []);
  return <canvas ref={ref} width={265} height={292} style={{ position: 'absolute', left: 0, top: 600, width: 265, height: 292 }} />;
}

const LEG_TEXT_X = [286, 334.3, 372];
const LEG_ROW0 = 665.3, LEG_ROW_H = 11.45, LEG_ROWS = 15;

export default function App() {
  const n = ROC_NAMES.length;
  return (
    <div style={{ position: 'absolute', left: 0, top: 0, width: 790, height: 920, background: '#fff', overflow: 'hidden', fontFamily: FONT }}>
      {PANEL_LETTERS.map((_, i) => <BoxPanel key={i} i={i} />)}
      <RocPanel />
      <AucPanel />
      {LETTERS.map((s, k) => (
        <div key={'l' + k} style={{ position: 'absolute', left: LETTER_POS[k][0], top: LETTER_POS[k][1] - 7.3, fontSize: 14.5, lineHeight: '15px', color: '#000', whiteSpace: 'nowrap' }}>{s}</div>
      ))}
      <div style={{ position: 'absolute', left: 452, top: 391.5, fontSize: 11, lineHeight: '12px', color: '#000', whiteSpace: 'nowrap' }}>Area Under the Curve</div>
      <div style={{ position: 'absolute', left: 271, top: 647.2, fontSize: 7.5, lineHeight: '9px', color: '#000' }}>name</div>
      {ROC_NAMES.map((name, k) => {
        const col = Math.floor(k / LEG_ROWS), row = k % LEG_ROWS;
        const x = LEG_TEXT_X[col], y = LEG_ROW0 + row * LEG_ROW_H;
        const label = name === 'Procalcitonin' ? 'Procalcit\nonin' : name;
        return (
          <React.Fragment key={'g' + k}>
            <div style={{ position: 'absolute', left: x - 14, top: y - 0.6, width: 10.5, height: 1.2, background: hueColor(k, n, 1) }} />
            <div style={{ position: 'absolute', left: x, top: y - 3.7, fontSize: 6.3, lineHeight: '7px', color: '#222', whiteSpace: 'pre' }}>{label}</div>
          </React.Fragment>
        );
      })}
    </div>
  );
}
